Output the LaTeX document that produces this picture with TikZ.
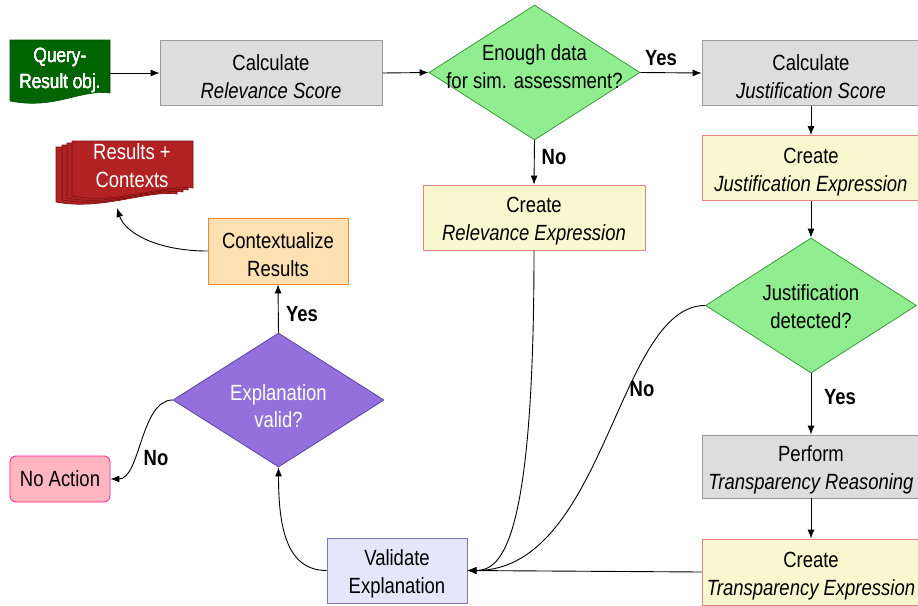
\documentclass[tikz,border=0pt]{standalone}
\usepackage{fontspec}
\setmainfont{Liberation Sans}[FakeStretch=0.84]
\usetikzlibrary{shapes.geometric,arrows.meta}

\definecolor{calcfill}{HTML}{DDDDDD}
\definecolor{calcline}{HTML}{9A9A9A}
\definecolor{exprfill}{HTML}{F8F8D0}
\definecolor{exprline}{HTML}{E8827F}
\definecolor{decfill}{HTML}{90EE90}
\definecolor{decline}{HTML}{3A9A3A}
\definecolor{valfill}{HTML}{E6E6FA}
\definecolor{valline}{HTML}{7878B8}
\definecolor{evalfill}{HTML}{9370DB}
\definecolor{evalline}{HTML}{5B45A8}
\definecolor{nofill}{HTML}{FFB6C1}
\definecolor{noline}{HTML}{FF1493}
\definecolor{ctxfill}{HTML}{FFE0B2}
\definecolor{ctxline}{HTML}{EE8833}
\definecolor{queryfill}{HTML}{006400}
\definecolor{resfill}{HTML}{B22222}
\definecolor{resline}{HTML}{7A1010}

% document shape: style, x0, y0, x1, bottom
\newcommand{\docshape}[5]{%
  \path[#1] (#2,#3) -- (#4,#3) -- (#4,#5-10)
    .. controls (#4-30,#5-14) and (#2+45,#5+7) .. (#2,#5-2) -- cycle;}
% taller first line, pushes two-line box texts down a little
\newcommand{\hi}{\rule{0pt}{23pt}}

\begin{document}
\begin{tikzpicture}[x=1pt,y=-1pt,>={Latex[length=9pt,width=7pt]},
    every node/.style={font=\fontsize{22}{28}\selectfont},
    box/.style={rectangle,draw,line width=0.8pt,align=center,inner sep=2pt},
    calcbox/.style={box,fill=calcfill,draw=calcline,minimum width=218pt,minimum height=65pt},
    exprbox/.style={box,fill=exprfill,draw=exprline,minimum width=218pt,minimum height=65pt},
    decision/.style={diamond,draw,line width=0.8pt,inner sep=0pt,minimum width=211pt,minimum height=135pt},
    dlabel/.style={align=center},
    lbl/.style={font=\fontsize{22}{28}\selectfont\bfseries},
    doctext/.style={align=center,text=white,minimum width=100pt,inner sep=0pt},
    conn/.style={->,line width=0.9pt}]
  \useasboundingbox (0,0) rectangle (918,605);

  % document shapes
  \docshape{fill=queryfill,draw=queryfill!80!black,line width=0.6pt}{10}{40}{110}{103}
  \foreach \dx/\dy in {-16/6,-10/4,-5/2,0/0}
    \docshape{fill=resfill,draw=resline,line width=0.6pt}{72+\dx}{141+\dy}{193+\dx}{198+\dy}
  \node[doctext,font=\fontsize{20.5}{26}\selectfont] (query) at (60,70) {Query-\\Result obj.};
  \node[doctext] (results) at (132,166) {Results +\\Contexts};
  \coordinate (restip) at (117,208);

  % top row and right column
  \node[calcbox,minimum width=222pt] (crel) at (271,73) {\hi Calculate\\\textit{Relevance Score}};
  \node[decision,fill=decfill,draw=decline,
        label={[dlabel,yshift=6pt]center:{Enough data\\for sim. assessment?}}] (enough) at (534.5,72.5) {};
  \node[calcbox] (cjscore) at (811,73) {\hi Calculate\\\textit{Justification Score}};
  \node[exprbox] (cjexpr) at (811,168) {\hi Create\\\textit{Justification Expression}};
  \node[decision,fill=decfill,draw=decline,
        label={[dlabel,yshift=-1pt]center:{Justification\\detected?}}] (jdet) at (811,305.5) {};
  \node[calcbox,minimum height=63pt] (perf) at (811,466.5) {\hi Perform\\\textit{Transparency Reasoning}};
  \node[exprbox,minimum height=66pt] (ctexpr) at (811,572) {\hi Create\\\textit{Transparency Expression}};
  \node[exprbox,minimum width=222pt] (crexpr) at (534,217.5) {\hi Create\\\textit{Relevance Expression}};

  % validation part
  \node[box,fill=valfill,draw=valline,minimum width=140pt,minimum height=65pt] (valid) at (397,570.5) {\hi Validate\\Explanation};
  \node[decision,fill=evalfill,draw=evalline,minimum height=134pt,
        label={[dlabel,text=white,yshift=-6pt,font=\fontsize{22}{27}\selectfont]center:{Explanation\\valid?}}] (evalid) at (278.5,400) {};
  \node[box,fill=ctxfill,draw=ctxline,minimum width=140pt,minimum height=66pt] (context) at (278,251) {\hi Contextualize\\Results};
  \node[box,rounded corners=6pt,fill=nofill,draw=noline,minimum width=100pt,minimum height=46pt] (noact) at (60,479) {No Action};

  % connectors
  \draw[conn] (query.east |- crel.west) -- (crel.west);
  \draw[conn] (crel.east) -- (enough.west);
  \draw[conn] (enough.east) -- (cjscore.west);
  \draw[conn] (enough.south) -- (crexpr.north);
  \draw[conn] (cjscore.south) -- (cjexpr.north);
  \draw[conn] (cjexpr.south) -- (jdet.north);
  \draw[conn] (jdet.south) -- (perf.north);
  \draw[conn] (perf.south) -- (ctexpr.north);
  \draw[conn] (ctexpr.west) -- (valid.east);
  \draw[conn] (crexpr.south) .. controls +(0,290) and +(35,0) .. (valid.east);
  \draw[conn] (jdet.west) .. controls +(-88,0) and +(138,0) .. (valid.east);
  \draw[conn] (valid.west) .. controls +(-40,0) and +(0,60) .. (evalid.south);
  \draw[conn] (evalid.west) .. controls +(-32,0) and +(30,0) .. (noact.east);
  \draw[conn] (evalid.north) -- (context.south);
  \draw[conn] (context.west) .. controls +(-50,0) and +(8,25) .. (restip);

  % branch labels
  \node[lbl] (yes1) at (661,58) {Yes};
  \node[lbl] (no1) at (554,157) {No};
  \node[lbl] (no2) at (642,389) {No};
  \node[lbl] (yes2) at (840,397) {Yes};
  \node[lbl] (yes3) at (302,314) {Yes};
  \node[lbl] (no3) at (156,458) {No};
\end{tikzpicture}
\end{document}
